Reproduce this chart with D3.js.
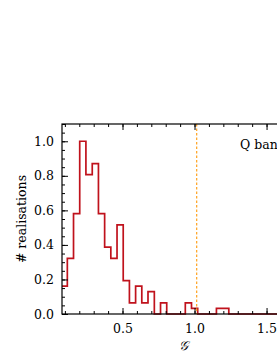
<!DOCTYPE html>
<html lang="en">
<head>
<meta charset="UTF-8">
<title>Q band histogram</title>
<style>
  body { margin: 0; overflow: hidden; background: #fff; }
  text { font-family: "DejaVu Serif", "Liberation Serif", serif; }
</style>
</head>
<body>
<script src="https://cdnjs.cloudflare.com/ajax/libs/d3/7.8.5/d3.min.js"></script>
<script>
// histogram bins (edges) and counts
const binEdges = [0.074, 0.117, 0.160, 0.203, 0.246, 0.290, 0.333, 0.376, 0.419, 0.462,
  0.505, 0.548, 0.591, 0.634, 0.677, 0.721, 0.764, 0.807, 0.850, 0.893,
  0.936, 0.979, 1.022, 1.065, 1.108, 1.152, 1.195, 1.238, 1.281, 1.324,
  1.367, 1.410, 1.453, 1.496, 1.539, 1.583, 1.626, 1.669, 1.712, 1.755];
const counts = [5, 10, 18, 31, 25, 27, 18, 12, 10, 16,
  6, 2, 5, 2, 4, 0, 2, 0, 0, 0,
  2, 1, 0, 0, 0, 1, 1, 0, 0, 0,
  0, 0, 0, 0, 0, 0, 0, 0, 0];
const markerX = 1.015;
const xTicks = [0.5, 1.0, 1.5];
const yTicks = [0.0, 0.2, 0.4, 0.6, 0.8, 1.0];
const bandLabel = "Q band";

const W = 277, H = 358;
const m = {left: 62, top: 124, right: 304, bottom: 314};
const fontSize = '12.5px';

const svg = d3.select('body').append('svg')
  .attr('width', W).attr('height', H);

const x = d3.scaleLinear().domain([0.08, 1.76]).range([m.left, m.right]);
const y = d3.scaleLinear().domain([0, 1.1]).range([m.bottom, m.top]);

const maxC = d3.max(counts);
const vals = counts.map(c => c / maxC);

svg.append('clipPath').attr('id', 'clip')
  .append('rect')
  .attr('x', m.left).attr('y', m.top - 2)
  .attr('width', m.right - m.left).attr('height', m.bottom - m.top + 4);

// step line
const pts = [[binEdges[0], 0]];
vals.forEach((v, i) => {
  pts.push([binEdges[i], v]);
  pts.push([binEdges[i + 1], v]);
});
pts.push([binEdges[binEdges.length - 1], 0]);

svg.append('path')
  .attr('clip-path', 'url(#clip)')
  .attr('d', d3.line().x(d => x(d[0])).y(d => y(d[1]))(pts))
  .attr('fill', 'none')
  .attr('stroke', '#c0121c')
  .attr('stroke-width', 1.7);

// dashed marker
svg.append('line')
  .attr('x1', x(markerX)).attr('x2', x(markerX))
  .attr('y1', m.top).attr('y2', m.bottom)
  .attr('stroke', '#ffa21f')
  .attr('stroke-width', 1.2)
  .attr('stroke-dasharray', '2.5,2');

// axes
const fmt = d3.format('.1f');
const xMinor = d3.range(1, 18).map(i => i / 10);
const yMinor = d3.range(0, 23).map(i => i * 0.05);

const gBottom = svg.append('g').attr('transform', `translate(0,${m.bottom})`);
gBottom.call(d3.axisBottom(x).tickValues(xMinor).tickSize(-3).tickFormat(''));
gBottom.append('g').call(d3.axisBottom(x).tickValues(xTicks).tickSize(-6).tickPadding(10).tickFormat(fmt));

const gTop = svg.append('g').attr('transform', `translate(0,${m.top})`);
gTop.call(d3.axisTop(x).tickValues(xMinor).tickSize(-3).tickFormat(''));
gTop.append('g').call(d3.axisTop(x).tickValues(xTicks).tickSize(-6).tickFormat(''));

const gLeft = svg.append('g').attr('transform', `translate(${m.left},0)`);
gLeft.call(d3.axisLeft(y).tickValues(yMinor).tickSize(-3).tickFormat(''));
gLeft.append('g').call(d3.axisLeft(y).tickValues(yTicks).tickSize(-6).tickPadding(8).tickFormat(fmt));

svg.selectAll('.domain').remove();
svg.selectAll('.tick line').attr('stroke', '#000').attr('stroke-width', 1);
svg.selectAll('.tick text')
  .attr('fill', '#000')
  .style('font-size', fontSize)
  .style('font-family', '"DejaVu Serif", "Liberation Serif", serif');

// frame
svg.append('rect')
  .attr('x', m.left).attr('y', m.top)
  .attr('width', m.right - m.left).attr('height', m.bottom - m.top)
  .attr('fill', 'none').attr('stroke', '#000').attr('stroke-width', 1.2);

svg.append('text')
  .attr('x', 240).attr('y', 149)
  .style('font-size', fontSize)
  .text(bandLabel);

svg.append('text')
  .attr('x', (m.left + m.right) / 2).attr('y', 350)
  .attr('text-anchor', 'middle')
  .style('font-size', '13px')
  .style('font-style', 'italic')
  .text('𝒢');

svg.append('text')
  .attr('transform', `translate(26,${(m.top + m.bottom) / 2}) rotate(-90)`)
  .attr('text-anchor', 'middle')
  .style('font-size', fontSize)
  .text('# realisations');
</script>
</body>
</html>
